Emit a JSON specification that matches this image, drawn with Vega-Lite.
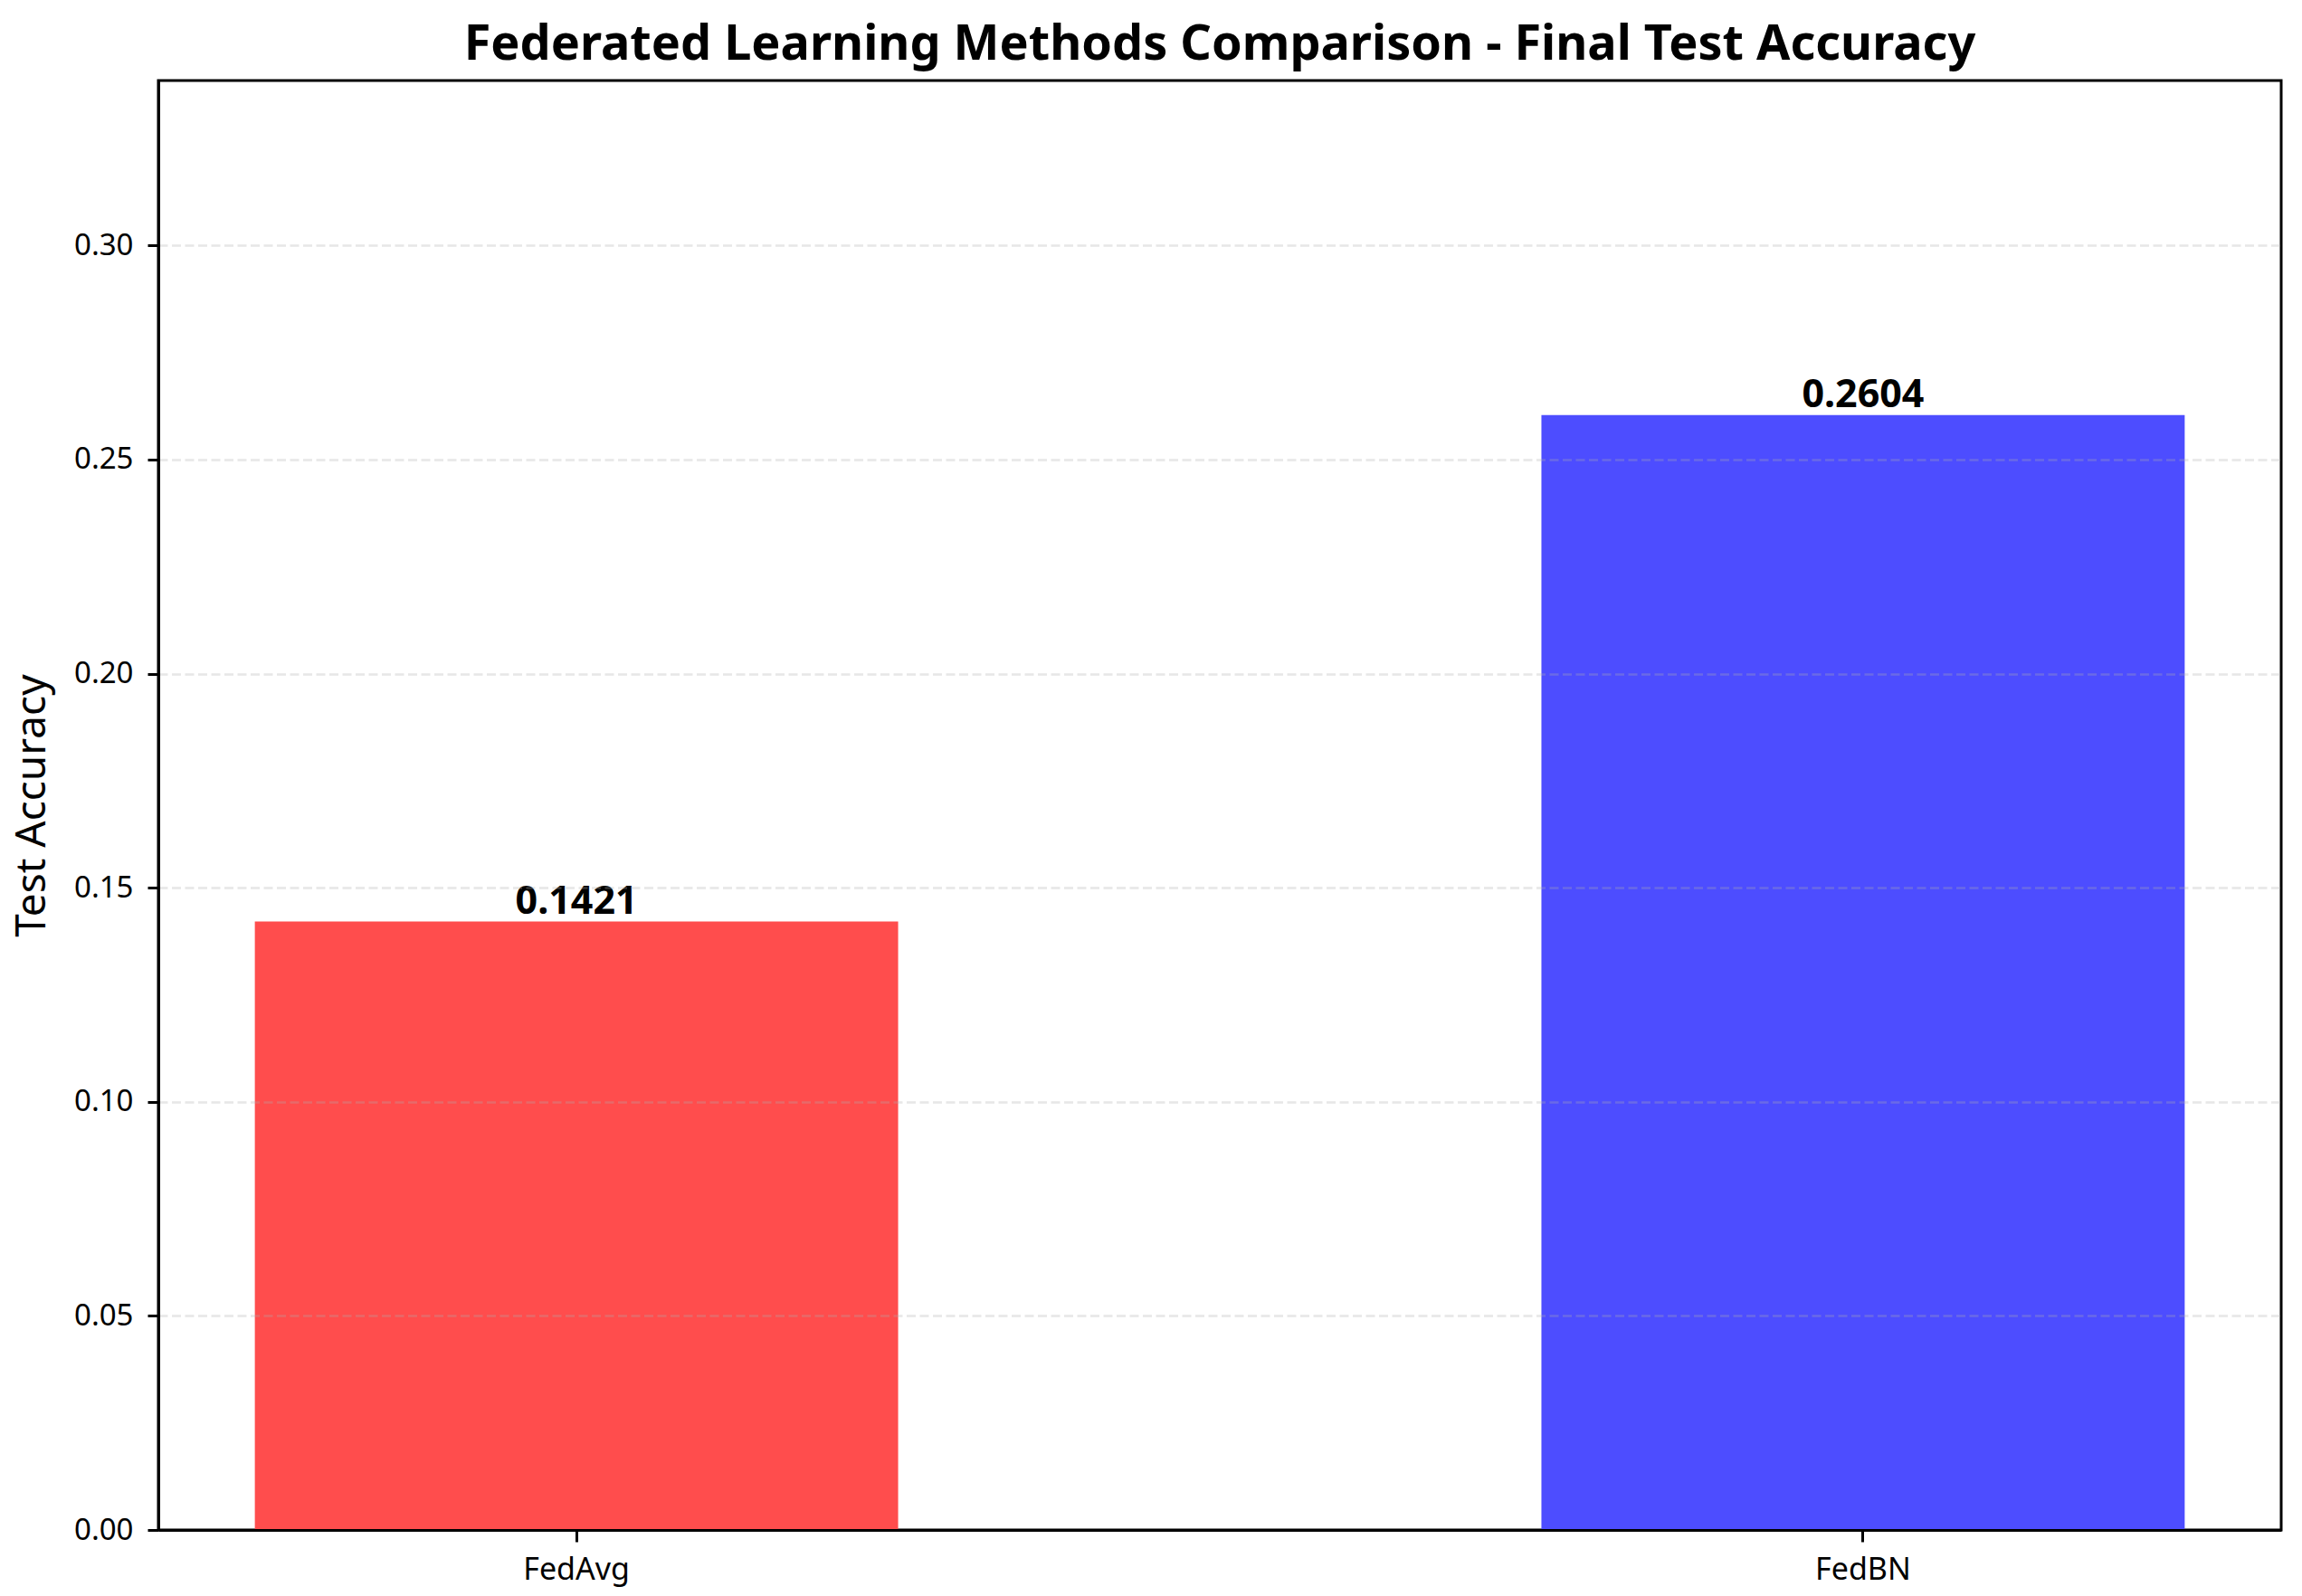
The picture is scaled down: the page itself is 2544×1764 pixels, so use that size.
{
  "$schema": "https://vega.github.io/schema/vega-lite/v6.json",
  "width": 2346,
  "height": 1602,
  "autosize": {"type": "none"},
  "padding": {"left": 175, "top": 89, "right": 23, "bottom": 73},
  "background": "white",
  "config": {
    "view": {"stroke": "black", "strokeWidth": 3},
    "font": "Noto Sans"
  },
  "title": {
    "text": "Federated Learning Methods Comparison - Final Test Accuracy",
    "font": "Noto Sans",
    "fontSize": 54,
    "fontWeight": "bold",
    "color": "black",
    "anchor": "middle",
    "frame": "group",
    "baseline": "alphabetic",
    "offset": -31
  },
  "data": {
    "values": [
      {"method": "FedAvg", "accuracy": 0.1421},
      {"method": "FedBN", "accuracy": 0.2604}
    ]
  },
  "encoding": {
    "x": {
      "field": "method",
      "type": "nominal",
      "sort": null,
      "scale": {"paddingInner": 0.5, "paddingOuter": 0.075},
      "axis": {
        "title": null,
        "labelAngle": 0,
        "labelFont": "Noto Sans",
        "labelFontSize": 34,
        "labelColor": "black",
        "labelBaseline": "alphabetic",
        "labelPadding": 41,
        "tickSize": 13,
        "tickWidth": 3,
        "tickColor": "black",
        "domainColor": "black",
        "domainWidth": 3,
        "grid": false,
        "zindex": 1
      }
    },
    "y": {
      "field": "accuracy",
      "type": "quantitative",
      "scale": {"domain": [0, 0.33852], "nice": false, "zero": true},
      "axis": {
        "values": [0, 0.05, 0.1, 0.15, 0.2, 0.25, 0.3],
        "format": ".2f",
        "labelFont": "Noto Sans",
        "labelFontSize": 33,
        "labelColor": "black",
        "labelPadding": 16,
        "tickSize": 12,
        "tickWidth": 3,
        "tickColor": "black",
        "domainColor": "black",
        "domainWidth": 3,
        "grid": true,
        "gridColor": "#b0b0b0",
        "gridOpacity": 0.3,
        "gridDash": [10, 4.5],
        "gridWidth": 2.6,
        "title": "Test Accuracy",
        "titleFont": "Noto Sans",
        "titleFontSize": 46,
        "titleFontWeight": "normal",
        "titleColor": "black",
        "titleAngle": -90,
        "titleAlign": "center",
        "titleBaseline": "middle",
        "titleX": -140,
        "titleY": 801,
        "zindex": 1
      }
    }
  },
  "layer": [
    {
      "mark": {"type": "bar"},
      "encoding": {
        "color": {
          "field": "method",
          "type": "nominal",
          "scale": {"domain": ["FedAvg", "FedBN"], "range": ["#ff4d4d", "#4d4dff"]},
          "legend": null
        }
      }
    },
    {
      "mark": {
        "type": "text",
        "baseline": "alphabetic",
        "align": "center",
        "dy": -9,
        "font": "Noto Sans",
        "fontSize": 43,
        "fontWeight": "bold",
        "color": "black"
      },
      "encoding": {
        "text": {"field": "accuracy", "type": "quantitative", "format": ".4f"}
      }
    }
  ]
}
